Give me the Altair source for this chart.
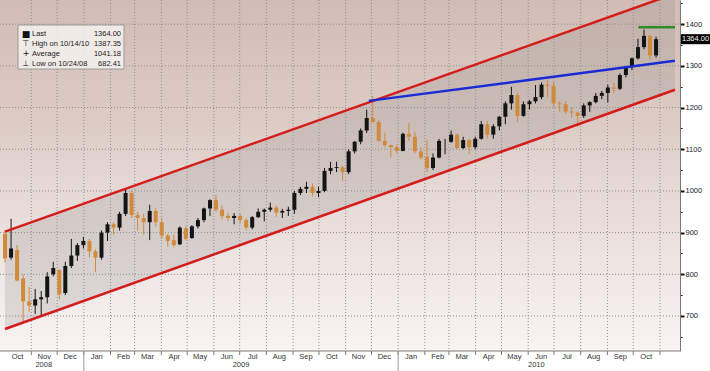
import altair as alt
import pandas as pd

# ---------------- data (weekly OHLC) ----------------
first_week_monday = "2008-09-29"
opens = [897, 840, 858, 790, 735, 725, 740, 745, 800, 810, 755, 820, 845, 870,
         880, 855, 840, 900, 920, 912, 945, 995, 942, 935, 925, 952, 925, 893, 882, 872, 910,
         887, 915, 930, 958, 978, 955, 940, 935, 940, 930, 912, 937, 950, 955, 960, 948, 952,
         955, 995, 1005, 1010, 995, 1000, 1048, 1055, 1057, 1045, 1095, 1118, 1145, 1175,
         1165, 1120, 1110, 1105,
         1096, 1137, 1130, 1095, 1082, 1055, 1080, 1118, 1118, 1135, 1103, 1122, 1105, 1125,
         1160, 1135, 1155, 1178, 1210, 1230, 1180, 1208, 1215, 1225, 1255, 1252, 1210, 1208,
         1190, 1188, 1180, 1205, 1213, 1228, 1235, 1248, 1245, 1278, 1297, 1318, 1345, 1372,
         1325]
highs = [905, 933, 870, 800, 770, 765, 760, 805, 830, 812, 830, 885, 875, 890,
         885, 860, 905, 925, 925, 950, 1005, 1000, 950, 945, 967, 960, 935, 897, 895, 915, 915,
         918, 935, 960, 980, 990, 965, 948, 947, 945, 935, 940, 958, 958, 972, 965, 957, 962,
         1000, 1010, 1022, 1018, 1010, 1055, 1070, 1070, 1060, 1100, 1120, 1150, 1195, 1228,
         1170, 1140, 1112, 1112,
         1140, 1163, 1142, 1105, 1122, 1090, 1125, 1125, 1145, 1138, 1130, 1125, 1130, 1168,
         1168, 1160, 1180, 1215, 1250, 1235, 1215, 1218, 1254, 1260, 1267, 1262, 1215, 1215,
         1200, 1190, 1210, 1215, 1235, 1240, 1255, 1260, 1282, 1300, 1320, 1365, 1387.35, 1375,
         1370]
lows = [828, 835, 783, 682.41, 710, 705, 702, 730, 795, 740, 750, 815, 832, 862,
        840, 805, 835, 880, 895, 905, 940, 935, 905, 895, 882, 915, 885, 866, 864, 870, 882,
        885, 910, 925, 940, 950, 932, 928, 920, 922, 905, 908, 935, 927, 950, 938, 935, 940,
        945, 990, 995, 987, 985, 997, 1040, 1045, 1024, 1040, 1090, 1112, 1139, 1165,
        1118, 1105, 1080, 1090,
        1095, 1120, 1090, 1075, 1045, 1050, 1078, 1088, 1115, 1100, 1100, 1088, 1100, 1123,
        1125, 1125, 1145, 1160, 1195, 1165, 1178, 1195, 1210, 1220, 1225, 1200, 1190, 1185,
        1175, 1155, 1175, 1190, 1210, 1220, 1212, 1235, 1242, 1272, 1290, 1315, 1340, 1315,
        1320]
closes = [838, 862, 785, 735, 725, 740, 745, 795, 815, 752, 820, 845, 870, 880,
          855, 840, 900, 920, 912, 945, 995, 942, 935, 925, 952, 925, 893, 880, 870, 912, 885,
          915, 930, 958, 978, 955, 940, 935, 940, 930, 912, 937, 950, 955, 960, 948, 952, 955,
          995, 1005, 1010, 995, 1000, 1048, 1055, 1057, 1045, 1095, 1118, 1145, 1175, 1165,
          1120, 1110, 1105, 1096,
          1137, 1130, 1095, 1080, 1055, 1080, 1120, 1118, 1135, 1103, 1122, 1105, 1125, 1160,
          1135, 1155, 1178, 1210, 1230, 1180, 1208, 1215, 1225, 1255, 1252, 1210, 1208, 1190,
          1188, 1180, 1205, 1213, 1228, 1235, 1248, 1245, 1278, 1297, 1318, 1345, 1372, 1325,
          1364]

# channel / trend lines (end points)
channel_dates = ["2008-10-01T11:00:00Z", "2010-11-18T12:00:00Z"]
channel_upper = [902.2, 1473.3]
channel_lower = [668.8, 1242.6]
blue_dates = ["2009-11-28T00:00:00Z", "2010-11-18T12:00:00Z"]
blue_values = [1216, 1312]
green_dates = ["2010-10-07T00:00:00Z", "2010-11-18T12:00:00Z"]
green_values = [1392.8, 1392.8]

# axis texts
month_names = ["Oct", "Nov", "Dec", "Jan", "Feb", "Mar", "Apr", "May", "Jun", "Jul",
               "Aug", "Sep", "Oct", "Nov", "Dec", "Jan", "Feb", "Mar", "Apr", "May",
               "Jun", "Jul", "Aug", "Sep", "Oct"]
year_names = ["2008", "2009", "2010"]
year_label_dates = ["2008-11-15T12:00:00Z", "2009-07-02T12:00:00Z", "2010-06-10T12:00:00Z"]
year_starts = ["2009-01-01T00:00:00Z", "2010-01-01T00:00:00Z"]
y_grid_values = [700, 800, 900, 1000, 1100, 1200, 1300, 1400]

# legend
legend_icons = ["\u25a0", "\u22a4", "+", "\u22a5"]
legend_labels = ["Last", "High on 10/14/10", "Average", "Low on 10/24/08"]
legend_values = ["1364.00", "1387.35", "1041.18", "682.41"]
last_price = 1364.00
last_label = "1364.00"

# ---------------- build tables ----------------
mondays = pd.date_range(first_week_monday, periods=len(opens), freq="7D")
df = pd.DataFrame({
    "date": (mondays + pd.Timedelta(days=2)).strftime("%Y-%m-%dT12:00:00Z"),
    "open": opens, "high": highs, "low": lows, "close": closes,
})
df["dir"] = ["up" if c >= o else "down" for o, c in zip(opens, closes)]

month_starts = pd.date_range("2008-10-01", "2010-11-01", freq="MS")
month_df = pd.DataFrame({
    "date": (month_starts[:-1] + pd.Timedelta(days=15)).strftime("%Y-%m-%dT00:00:00Z"),
    "name": month_names,
})
bound_df = pd.DataFrame({"date": month_starts[1:].strftime("%Y-%m-%dT00:00:00Z")})
year_df = pd.DataFrame({"date": year_label_dates, "name": year_names})
ysep_df = pd.DataFrame({"date": year_starts})
ygrid_df = pd.DataFrame({"v": y_grid_values})
chan_df = pd.DataFrame({"date": channel_dates, "up": channel_upper, "lo": channel_lower})
blue_df = pd.DataFrame({"date": blue_dates, "v": blue_values})
green_df = pd.DataFrame({"date": green_dates, "v": green_values})
one = pd.DataFrame({"a": [0]})

W, H = 680, 351
FONT = "Liberation Sans"
xs = alt.Scale(domain=[alt.DateTime(year=2008, month=10, date=1, hours=11, utc=True),
                       alt.DateTime(year=2010, month=11, date=18, hours=12, utc=True)])
ys = alt.Scale(domain=[616, 1458], nice=False, zero=False)

yaxis = alt.Axis(orient="right", values=list(range(650, 1451, 50)), format="d",
                 labelExpr="datum.value % 100 == 0 ? datum.label : ''",
                 tickSize=alt.condition("datum.value % 100 == 0", alt.value(4), alt.value(2)),
                 tickWidth=alt.condition("datum.value % 100 == 0", alt.value(2), alt.value(1)),
                 tickColor="#111111", domainColor="#7a7a7a", labelPadding=1,
                 labelFont=FONT, labelFontSize=7.5, labelColor="#222222",
                 grid=False, title=None)


def X(field="date"):
    return alt.X(f"{field}:T", scale=xs, axis=None)


def Y(field):
    return alt.Y(f"{field}:Q", scale=ys, axis=yaxis)


# background gradient
bg = alt.Chart(one).mark_rect(
    fill=alt.Gradient(gradient="linear", x1=0, x2=0, y1=0, y2=1,
                      stops=[alt.GradientStop(offset=0, color="#d2bcb3"),
                             alt.GradientStop(offset=0.3, color="#dbc9c2"),
                             alt.GradientStop(offset=0.55, color="#e6d9d5"),
                             alt.GradientStop(offset=0.8, color="#f0e8e6"),
                             alt.GradientStop(offset=1, color="#f8f4f3")])
).encode(x=alt.value(0), x2=alt.value(W), y=alt.value(0), y2=alt.value(H))

channel = alt.Chart(chan_df).mark_area(color="#8a8a8a", opacity=0.22, clip=True).encode(
    x=X(), y=Y("lo"), y2="up:Q")

vgrid = alt.Chart(bound_df).mark_rule(color="#8f8f8f", strokeDash=[1, 2], strokeWidth=1).encode(
    x=X(), y=alt.value(0), y2=alt.value(H))
hgrid = alt.Chart(ygrid_df).mark_rule(color="#8f8f8f", strokeDash=[1, 2], strokeWidth=1).encode(
    y=Y("v"), x=alt.value(0), x2=alt.value(W))

col = alt.Color("dir:N", scale=alt.Scale(domain=["up", "down"], range=["#141414", "#d08a3c"]),
                legend=None)
wicks = alt.Chart(df).mark_rule(strokeWidth=1).encode(x=X(), y=Y("low"), y2="high:Q", color=col)
bodies = alt.Chart(df).mark_bar(size=4).encode(x=X(), y=Y("open"), y2="close:Q", color=col)

red_up = alt.Chart(chan_df).mark_line(color="#d41c1c", strokeWidth=2.5, clip=True).encode(
    x=X(), y=Y("up"))
red_lo = alt.Chart(chan_df).mark_line(color="#d41c1c", strokeWidth=2.5, clip=True).encode(
    x=X(), y=Y("lo"))
blue = alt.Chart(blue_df).mark_line(color="#1a2bd6", strokeWidth=2.5, clip=True).encode(
    x=X(), y=Y("v"))
green = alt.Chart(green_df).mark_line(color="#2f8a2a", strokeWidth=2.5, clip=True).encode(
    x=X(), y=Y("v"))

# bottom axis pieces
base_line = alt.Chart(one).mark_rule(color="#7a7a7a", strokeWidth=1).encode(
    x=alt.value(0), x2=alt.value(W), y=alt.value(H))
mticks = alt.Chart(bound_df).mark_rule(color="#7a7a7a", strokeWidth=1).encode(
    x=X(), y=alt.value(H), y2=alt.value(H + 4))
ysep = alt.Chart(ysep_df).mark_rule(color="#9a9a9a", strokeWidth=1).encode(
    x=X(), y=alt.value(H), y2=alt.value(H + 20))
mlabels = alt.Chart(month_df).mark_text(font=FONT, fontSize=7.5, color="#333333",
                                        baseline="middle", align="center").encode(
    x=X(), y=alt.value(H + 6), text="name:N")
ylabels = alt.Chart(year_df).mark_text(font=FONT, fontSize=7.5, color="#333333",
                                       baseline="middle", align="center").encode(
    x=X(), y=alt.value(H + 14), text="name:N")

# last price box
last_df = pd.DataFrame({"v": [last_price], "t": [last_label]})
last_box = alt.Chart(last_df).transform_calculate(v1="datum.v + 12", v2="datum.v - 12").mark_rect(
    color="#000000").encode(x=alt.value(W + 1), x2=alt.value(W + 31),
                            y=Y("v1"), y2="v2:Q")
last_txt = alt.Chart(last_df).mark_text(font=FONT, fontSize=7.5, color="white", align="left",
                                        baseline="middle").encode(
    x=alt.value(W + 2), y=Y("v"), text="t:N")

# legend box
leg_box = alt.Chart(one).mark_rect(fill="#f6f2f0", fillOpacity=0.85, stroke="#9a9a9a",
                                   strokeWidth=1).encode(
    x=alt.value(18), x2=alt.value(124), y=alt.value(25), y2=alt.value(69))
leg_layers = []
row_y = [34, 44, 54, 63.5]
for i in range(4):
    rd = pd.DataFrame({"icon": [legend_icons[i]], "lab": [legend_labels[i]],
                       "val": [legend_values[i]]})
    leg_layers.append(alt.Chart(rd).mark_text(font="DejaVu Sans", fontSize=9 if i == 0 else 8,
                                              color="#111111", align="center",
                                              baseline="middle").encode(
        x=alt.value(26), y=alt.value(row_y[i]), text="icon:N"))
    leg_layers.append(alt.Chart(rd).mark_text(font=FONT, fontSize=7.5, color="#222222",
                                              align="left", baseline="middle").encode(
        x=alt.value(32), y=alt.value(row_y[i]), text="lab:N"))
    leg_layers.append(alt.Chart(rd).mark_text(font=FONT, fontSize=7.5, color="#222222",
                                              align="right", baseline="middle").encode(
        x=alt.value(121), y=alt.value(row_y[i]), text="val:N"))

chart = alt.layer(
    bg, channel, vgrid, hgrid, wicks, bodies, red_up, red_lo, blue, green,
    base_line, mticks, ysep, mlabels, ylabels, last_box, last_txt, leg_box, *leg_layers
).properties(
    width=W, height=H,
    padding={"left": 0, "top": 0, "right": 30, "bottom": 20},
    autosize=alt.AutoSizeParams(type="none"),
    background="white",
).configure_view(strokeWidth=0)

chart.save("out.html", embed_options={"renderer": "svg", "actions": False})
